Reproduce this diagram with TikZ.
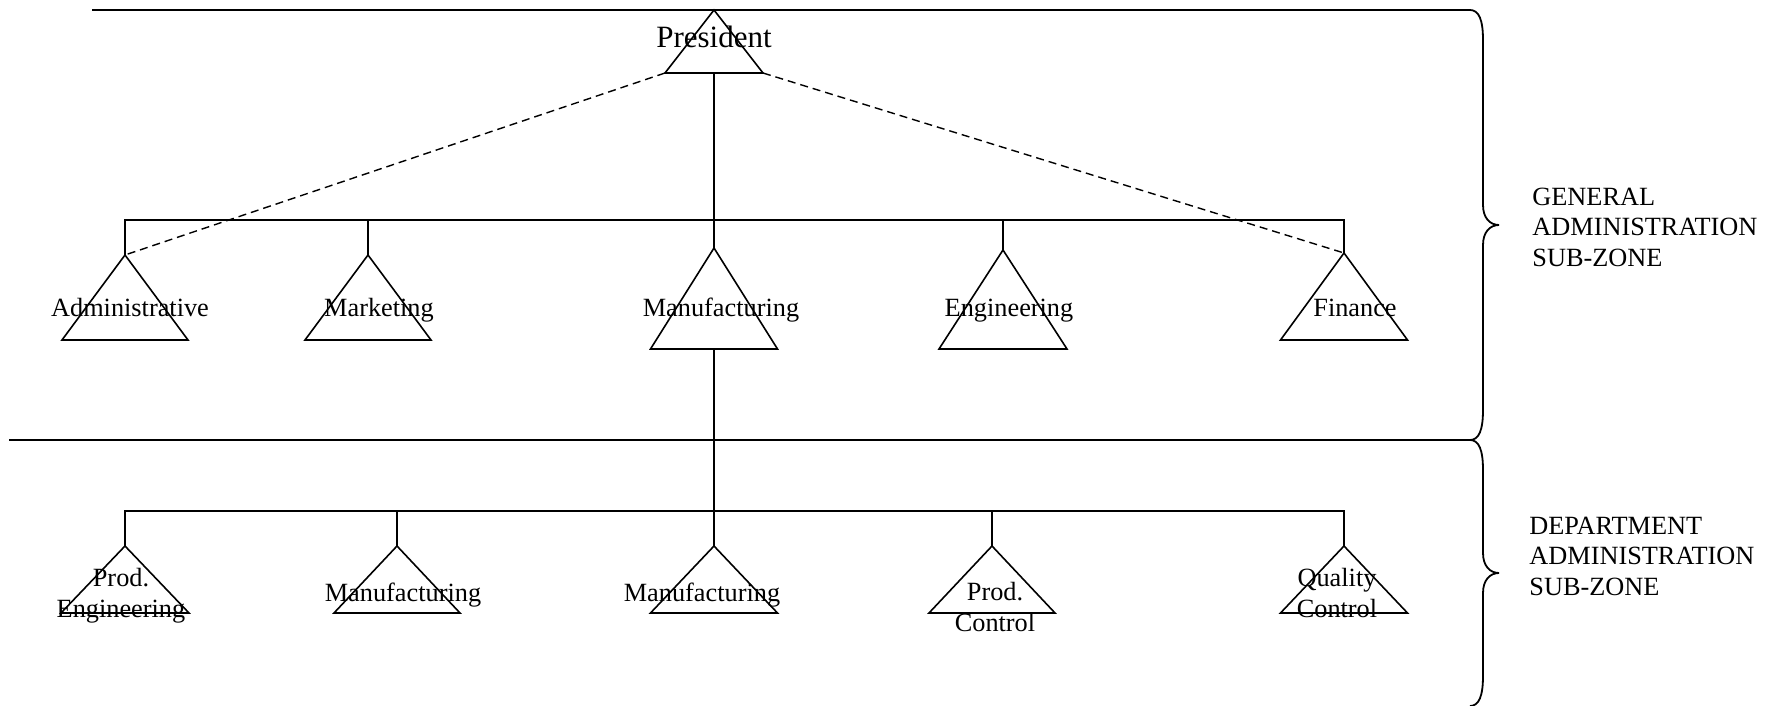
\documentclass[tikz,border=0pt]{standalone}
\usepackage{fontspec}
\setmainfont{Liberation Serif}
\newcommand\mytri[5]{%
  \coordinate (#1) at (#2,#3);
  \coordinate (#1-b) at (#2,#3+#5);
  \coordinate (#1-l) at (#2-#4,#3+#5);
  \coordinate (#1-r) at (#2+#4,#3+#5);
  \draw[tri] (#1) -- (#1-l) -- (#1-r) -- cycle;}
\tikzset{
  tri/.style={line width=0.8pt, line join=miter},
  conn/.style={line width=0.8pt},
  dashconn/.style={line width=0.7pt, dash pattern=on 4pt off 2.5pt},
  zone/.style={line width=0.9pt},
  lbl/.style={font=\fontsize{13.15}{15.25}\selectfont, inner sep=0pt, anchor=base, align=center},
  preslbl/.style={font=\fontsize{15.5}{18}\selectfont, inner sep=0pt, anchor=base},
  zlbl/.style={font=\fontsize{13.15}{15.25}\selectfont, inner sep=0pt, anchor=base west, align=left},
}
\begin{document}
\begin{tikzpicture}[x=0.5pt,y=-0.5pt]
\useasboundingbox (0,0) rectangle (1768,706);
\clip (0,0) rectangle (1768,706);
% zone lines and braces
\coordinate (topL) at (92,10);
\coordinate (topR) at (1470,10);
\coordinate (midL) at (9,440);
\coordinate (midR) at (1470,440);
\coordinate (botR) at (1470,706);
\draw[zone] (topL) -- (topR);
\draw[zone] (midL) -- (midR);
\draw[zone] (topR) .. controls (1479,10) and (1483,20) .. (1483,40)
  -- (1483,205) .. controls (1483,218) and (1490,225) .. (1499,225)
  .. controls (1490,225) and (1483,232) .. (1483,245)
  -- (1483,410) .. controls (1483,430) and (1479,440) .. (midR);
\draw[zone] (midR) .. controls (1479,440) and (1483,450) .. (1483,470)
  -- (1483,553) .. controls (1483,566) and (1490,573) .. (1499,573)
  .. controls (1490,573) and (1483,580) .. (1483,593)
  -- (1483,676) .. controls (1483,696) and (1479,706) .. (botR);
% triangles
\mytri{pres}{714}{10}{49}{63}
\mytri{adm}{125}{255}{63}{85}
\mytri{mkt}{368}{255}{63}{85}
\mytri{mfg}{714}{248}{63.5}{101}
\mytri{eng}{1003}{250}{64}{99}
\mytri{fin}{1344}{253}{63.5}{87}
\mytri{pe}{125}{546}{64}{67}
\mytri{mtwo}{397}{546}{63}{67}
\mytri{mthree}{714}{546}{63.5}{67}
\mytri{pc}{992}{546}{63}{67}
\mytri{qc}{1344}{546}{63.5}{67}
% connectors
\coordinate (upbar) at (714,220);
\coordinate (lowbar) at (714,511);
\draw[conn] (pres-b) -- (mfg);
\draw[conn] (adm) |- (upbar) -| (fin);
\draw[conn] (mkt) -- (mkt |- upbar);
\draw[conn] (eng) -- (eng |- upbar);
\draw[dashconn] (pres-l) -- (adm);
\draw[dashconn] (pres-r) -- (fin);
\draw[conn] (mfg-b) -- (mthree);
\draw[conn] (pe) |- (lowbar) -| (qc);
\draw[conn] (mtwo) -- (mtwo |- lowbar);
\draw[conn] (pc) -- (pc |- lowbar);
% labels
\node[preslbl] (tpres) at (714,48) {President};
\node[lbl] (tadm) at (130,316) {Administrative};
\node[lbl] (tmkt) at (379,316) {Marketing};
\node[lbl] (tmfg) at (721,316) {Manufacturing};
\node[lbl] (teng) at (1009,316) {Engineering};
\node[lbl] (tfin) at (1355,316) {Finance};
\node[lbl] (tpe) at (121,617) {Prod.\\Engineering};
\node[lbl] (tmtwo) at (403,601) {Manufacturing};
\node[lbl] (tmthree) at (702,601) {Manufacturing};
\node[lbl] (tpc) at (995,631) {Prod.\\Control};
\node[lbl] (tqc) at (1337,617) {Quality\\Control};
\node[zlbl] (tgen) at (1532,266) {GENERAL\\ADMINISTRATION\\SUB-ZONE};
\node[zlbl] (tdep) at (1529,595) {DEPARTMENT\\ADMINISTRATION\\SUB-ZONE};
\end{tikzpicture}
\end{document}
